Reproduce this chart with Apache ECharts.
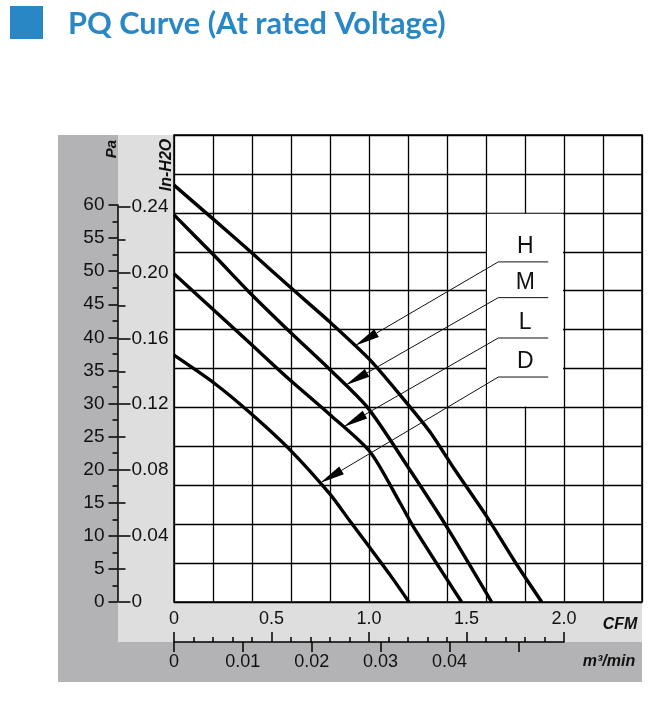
<!DOCTYPE html>
<html><head><meta charset="utf-8">
<script src="https://cdn.jsdelivr.net/npm/echarts@6/dist/echarts.min.js"></script>
<style>html,body{margin:0;padding:0;background:#fff}#c{width:662px;height:706px}</style>
</head><body><div id="c"></div>
<script>
// ---------- data ----------
const curveNames = ['H', 'M', 'L', 'D'];
const hCFM = [0, 0.20, 0.39, 0.595, 0.80, 1.005, 1.193, 1.313, 1.441, 1.604, 1.749, 1.886];
const hPa  = [63.0, 57.9, 53.0, 47.6, 42.3, 36.6, 30.1, 25.7, 19.95, 12.9, 6.05, 0];
const mCFM = [0, 0.205, 0.39, 0.595, 0.80, 0.995, 1.21, 1.398, 1.629];
const mPa  = [58.5, 52.4, 46.7, 40.8, 35.1, 29.3, 19.95, 11.4, 0];
const lCFM = [0, 0.205, 0.39, 0.595, 0.80, 1.005, 1.159, 1.227, 1.475];
const lPa  = [49.6, 44.1, 39.1, 33.55, 28.3, 22.7, 15.0, 11.4, 0];
const dCFM = [0, 0.205, 0.39, 0.595, 0.80, 0.903, 1.005, 1.108, 1.205];
const dPa  = [37.3, 33.1, 28.6, 23.0, 16.3, 12.2, 8.2, 4.1, 0];

const paTicks = [0, 5, 10, 15, 20, 25, 30, 35, 40, 45, 50, 55, 60];
const paMinorTicks = [2.5, 7.5, 12.5, 17.5, 22.5, 27.5, 32.5, 37.5, 42.5, 47.5, 52.5, 57.5];
const inH2OTicks = [0, 0.04, 0.08, 0.12, 0.16, 0.20, 0.24];
const inH2OMinorTicks = [0.02, 0.06, 0.10, 0.14, 0.18, 0.22];
const cfmTicks = [0, 0.5, 1.0, 1.5, 2.0];
const m3Ticks = [0, 0.01, 0.02, 0.03, 0.04, 0.05];
const m3Labels = [0, 0.01, 0.02, 0.03, 0.04];

// annotation anchors (data units)
const arrowTipCFM = [0.928, 0.879, 0.868, 0.749];
const leaderPa = [51.4, 46.0, 39.9, 34.0];
const leaderStartCFM = 1.663;
const leaderEndCFM = 1.919;

const PA_PER_INH2O = 249.089;
const CFM_PER_M3MIN = 35.3147;

// ---------- layout ----------
const PL = 174, PT = 135, PW = 468, PH = 467;
const CFM_MAX = 2.4;
const PA_MAX = 60 * PH / 397;

function interp(xs, ys, x) {
  for (let i = 0; i < xs.length - 1; i++) {
    if (x >= xs[i] && x <= xs[i + 1]) {
      const t = (x - xs[i]) / (xs[i + 1] - xs[i]);
      return ys[i] + t * (ys[i + 1] - ys[i]);
    }
  }
  return ys[ys.length - 1];
}
const curves = [[hCFM, hPa], [mCFM, mPa], [lCFM, lPa], [dCFM, dPa]];
const annoData = curves.map((c, i) => [leaderStartCFM, leaderPa[i], leaderEndCFM,
  arrowTipCFM[i], interp(c[0], c[1], arrowTipCFM[i]), i]);

// title font size fit
const titleText = 'PQ Curve (At rated Voltage)';
const cv = document.createElement('canvas').getContext('2d');
cv.font = 'bold 30px Lato';
const titleSize = Math.min(34, 30 * 378 / cv.measureText(titleText).width);

const black = '#000';
const txt = '#111';
const tickFont = 'Liberation Sans';

const chart = echarts.init(document.getElementById('c'), null, { renderer: 'canvas' });

const lineSeries = curves.map((c, i) => ({
  type: 'line', name: curveNames[i], xAxisIndex: 0, yAxisIndex: 1,
  data: c[0].map((x, k) => [x, c[1][k]]),
  smooth: 0.25, symbol: 'none', z: 5,
  lineStyle: { color: black, width: 3.4 }
}));

function tickAxis(pos, max, values, len, extra) {
  return Object.assign({ gridIndex: 1, type: 'value', position: pos, min: 0, max: max,
    axisLine: { show: false },
    axisTick: { show: true, length: len, customValues: values, lineStyle: { color: black, width: 1.5 } },
    axisLabel: { show: false }, splitLine: { show: false } }, extra || {});
}

const option = {
  animation: false,
  backgroundColor: '#fff',
  graphic: [
    { type: 'rect', z: -2, shape: { x: 58, y: 135, width: 584, height: 547 }, style: { fill: '#b3b3b5' } },
    { type: 'rect', z: -1, shape: { x: 118, y: 135, width: 524, height: 507 }, style: { fill: '#dededf' } },
    { type: 'rect', shape: { x: 10, y: 6, width: 33, height: 33 }, style: { fill: '#2a87c5' } },
    { type: 'text', x: 68, y: 24, style: { text: titleText, font: 'bold ' + titleSize.toFixed(1) + 'px Lato', fill: '#2a87c5', verticalAlign: 'middle' } },
    { type: 'text', x: 620, y: 625, style: { text: 'CFM', font: 'italic bold 16px "Liberation Sans"', fill: txt, align: 'center', verticalAlign: 'middle' } },
    { type: 'text', x: 609, y: 662, style: { text: 'm³/min', font: 'italic bold 16px "Liberation Sans"', fill: txt, align: 'center', verticalAlign: 'middle' } },
    { type: 'text', x: 112, y: 149, rotation: Math.PI / 2, style: { text: 'Pa', font: 'italic bold 15px "Liberation Sans"', fill: txt, align: 'center', verticalAlign: 'middle' } },
    { type: 'text', x: 167, y: 165, rotation: Math.PI / 2, style: { text: 'In-H2O', font: 'italic bold 16px "Liberation Sans"', fill: txt, align: 'center', verticalAlign: 'middle' } }
  ],
  grid: [
    { left: PL, top: PT, width: PW, height: PH, show: true, backgroundColor: '#fff', borderColor: black, borderWidth: 1.5 },
    { left: 117.5, top: PT + PH * (1 - 60 / PA_MAX), width: 1, height: PH * 60 / PA_MAX },
    { left: PL, top: 641, width: PW * 2 / CFM_MAX, height: 1 }
  ],
  xAxis: [
    { gridIndex: 0, type: 'value', min: 0, max: CFM_MAX, interval: 0.2,
      axisLine: { show: false }, axisTick: { show: false }, axisLabel: { show: false },
      splitLine: { show: true, lineStyle: { color: black, width: 1.3 } } },
    { gridIndex: 1, type: 'value', show: false, min: 0, max: 1 },
    { gridIndex: 2, type: 'value', position: 'bottom', min: 0, max: 2, interval: 0.5,
      axisLine: { show: true, lineStyle: { color: black, width: 1.5 } },
      axisTick: { show: true, inside: true, length: 10, lineStyle: { color: black, width: 1.5 } },
      minorTick: { show: true, splitNumber: 5, length: 5, lineStyle: { color: black, width: 1.5 } },
      axisLabel: { inside: true, margin: 14, fontSize: 18, fontFamily: tickFont, color: txt,
        customValues: cfmTicks,
        formatter: v => v === 0 ? '0' : v.toFixed(1) },
      splitLine: { show: false } },
    { gridIndex: 2, type: 'value', position: 'bottom', min: 0, max: 2 / CFM_PER_M3MIN,
      axisLine: { show: false },
      axisTick: { show: true, length: 10, customValues: m3Ticks, lineStyle: { color: black, width: 1.5 } },
      axisLabel: { margin: 11, fontSize: 18, fontFamily: tickFont, color: txt, customValues: m3Labels,
        formatter: v => v === 0 ? '0' : v.toFixed(2) },
      splitLine: { show: false } }
  ],
  yAxis: [
    { gridIndex: 0, type: 'value', position: 'left', min: 0, max: 12, interval: 1,
      axisLine: { show: false }, axisTick: { show: false }, axisLabel: { show: false },
      splitLine: { show: true, lineStyle: { color: black, width: 1.3 } } },
    { gridIndex: 0, type: 'value', position: 'right', min: 0, max: PA_MAX, show: false },
    tickAxis('left', 60, paTicks, 9, {
      axisLine: { show: true, lineStyle: { color: black, width: 1.5 } },
      axisLabel: { show: true, margin: 13, fontSize: 19, fontFamily: tickFont, color: txt, customValues: paTicks } }),
    tickAxis('left', 60, paMinorTicks, 5),
    tickAxis('right', 60 / PA_PER_INH2O, inH2OTicks, 12, {
      axisLabel: { show: true, margin: 13, fontSize: 19, fontFamily: tickFont, color: txt, customValues: inH2OTicks,
        formatter: v => v === 0 ? '0' : v.toFixed(2) } }),
    tickAxis('right', 60 / PA_PER_INH2O, inH2OMinorTicks, 7),
    { gridIndex: 2, type: 'value', show: false, min: 0, max: 1 }
  ],
  series: [
    // white label box (grid cells 1.6–2.0 CFM, rows 5–10)
    { type: 'custom', xAxisIndex: 0, yAxisIndex: 0, z: 3, silent: true,
      data: [[1.6, 10, 2.0, 5]],
      renderItem: (params, api) => {
        const a = api.coord([api.value(0), api.value(1)]);
        const b = api.coord([api.value(2), api.value(3)]);
        return { type: 'rect', shape: { x: a[0] + 1, y: a[1] + 1, width: b[0] - a[0] - 2, height: b[1] - a[1] - 2 },
          style: { fill: '#fff' } };
      } },
    ...lineSeries,
    { type: 'custom', xAxisIndex: 0, yAxisIndex: 1, z: 6, silent: true,
      data: annoData,
      renderItem: (params, api) => {
        const elbow = api.coord([api.value(0), api.value(1)]);
        const end = api.coord([api.value(2), api.value(1)]);
        const tip = api.coord([api.value(3), api.value(4)]);
        const name = curveNames[api.value(5)];
        const dx = elbow[0] - tip[0], dy = elbow[1] - tip[1];
        const len = Math.hypot(dx, dy), ux = dx / len, uy = dy / len;
        const hl = 25, hw = 4.5;
        const base = [tip[0] + ux * hl, tip[1] + uy * hl];
        const p1 = [base[0] - uy * hw, base[1] + ux * hw];
        const p2 = [base[0] + uy * hw, base[1] - ux * hw];
        return { type: 'group', children: [
          { type: 'polyline', shape: { points: [base, elbow, end] }, style: { stroke: '#111', lineWidth: 1, fill: 'none' } },
          { type: 'polygon', shape: { points: [tip, p1, p2] }, style: { fill: '#000' } },
          { type: 'text', style: { text: name, x: (elbow[0] + end[0]) / 2 + 2, y: elbow[1] - 15,
            align: 'center', verticalAlign: 'middle', font: '23px "Liberation Sans"', fill: '#111' } }
        ] };
      } }
  ]
};
chart.setOption(option);
</script>
</body></html>
